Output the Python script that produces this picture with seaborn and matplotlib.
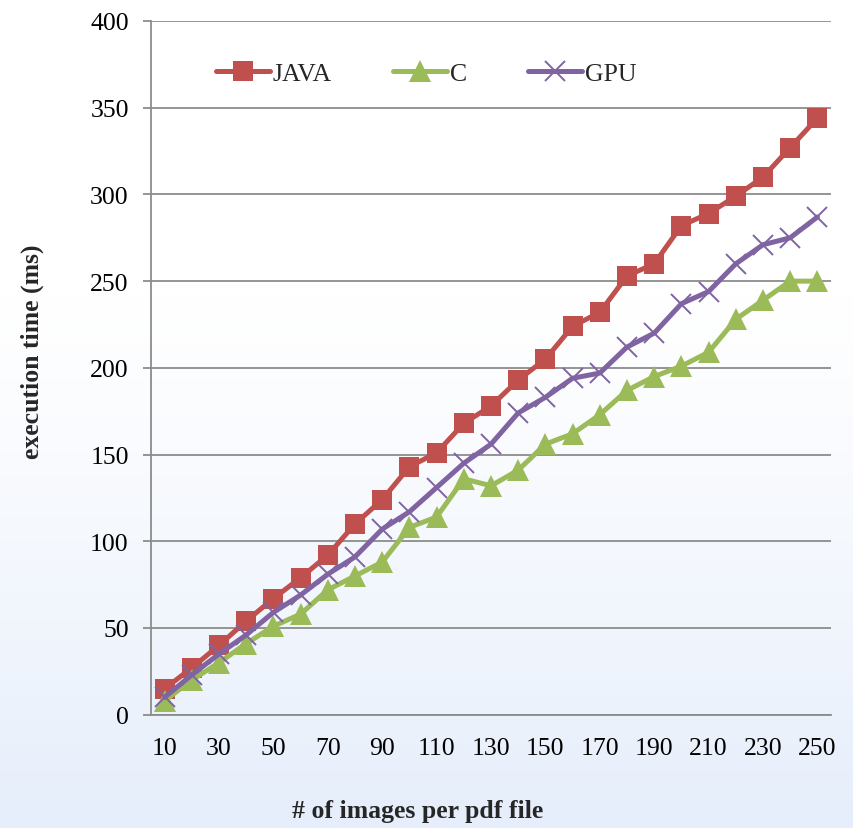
import numpy as np
import pandas as pd
import matplotlib
matplotlib.use("Agg")
import matplotlib.pyplot as plt
import seaborn as sns
from matplotlib.colors import LinearSegmentedColormap

images = list(range(10, 260, 10))
java = [15, 27, 40, 54, 67, 79, 92, 110, 124, 143, 151, 168, 178, 193, 205,
        224, 232, 253, 260, 282, 289, 299, 310, 327, 344]
c_vals = [8, 20, 30, 41, 51, 58, 72, 80, 88, 108, 114, 136, 132, 141, 156,
          162, 173, 187, 195, 201, 209, 228, 239, 250, 250]
gpu = [10, 23, 35, 46, 59, 69, 81, 91, 107, 117, 131, 145, 156, 174, 183,
       194, 197, 212, 220, 237, 244, 260, 271, 275, 287]
series_names = ["JAVA", "C", "GPU"]
x_ticks = list(range(10, 260, 20))
y_ticks = list(range(0, 401, 50))

sns.set_theme(style="white")
plt.rcParams["font.family"] = ["Liberation Serif", "DejaVu Serif"]

fig = plt.figure(figsize=(8.54, 8.29), dpi=100)

# background gradient
bg = fig.add_axes([0, 0, 1, 1], zorder=-10)
grad = np.linspace(0, 1, 400)
grad = np.clip((grad - 0.35) / 0.65, 0, 1) ** 1.2
cmap = LinearSegmentedColormap.from_list("bg", ["#ffffff", "#e6eefb"])
bg.imshow(grad[:, None], aspect="auto", cmap=cmap, extent=[0, 1, 0, 1], origin="upper")
bg.axis("off")

ax = fig.add_axes([151 / 854, 1 - 715.7 / 829, (831 - 151) / 854, (715.7 - 22) / 829])
ax.set_facecolor("none")

df = pd.DataFrame({"x": images, "JAVA": java, "C": c_vals, "GPU": gpu})
styles = {
    "JAVA": dict(color="#c0504d", marker="s", markersize=14, markeredgewidth=0),
    "C": dict(color="#9bbb59", marker="^", markersize=16, markeredgewidth=0),
    "GPU": dict(color="#8064a2", marker="x", markersize=14, markeredgewidth=1.4),
}
for name in series_names:
    st = styles[name]
    sns.lineplot(data=df, x="x", y=name, ax=ax, label=name, linewidth=3.6,
                 color=st["color"], marker=st["marker"], markersize=st["markersize"],
                 markeredgewidth=st["markeredgewidth"], markeredgecolor=st["color"],
                 clip_on=False)

ax.set_xlim(5, 255)
ax.set_ylim(0, 400)
ax.set_xticks(x_ticks)
ax.set_yticks(y_ticks)
ax.set_xticklabels([str(t) for t in x_ticks])
ax.yaxis.grid(True, color="#8c8c8c", linewidth=1.3)
ax.set_axisbelow(True)
for s in ["top", "right"]:
    ax.spines[s].set_visible(False)
for s in ["left", "bottom"]:
    ax.spines[s].set_color("#8c8c8c")
    ax.spines[s].set_linewidth(1.3)
ax.tick_params(axis="y", which="major", length=6, width=1.3, color="#8c8c8c",
               direction="out", left=True, labelsize=18.5, pad=10, labelcolor="black")
ax.tick_params(axis="x", which="major", length=0, labelsize=18.5, pad=16, labelcolor="black")

ax.set_xlabel("")
ax.set_ylabel("")
fig.text(418 / 854, 1 - 812 / 829, "# of images per pdf file", fontsize=18.5,
         fontweight="bold", ha="center", va="center")
fig.text(32 / 854, 1 - 352 / 829, "execution time (ms)", fontsize=18.5,
         fontweight="bold", ha="center", va="center", rotation=90)

leg = ax.legend(loc="center left", bbox_to_anchor=(0.08, 0.925), ncol=3, frameon=False,
                fontsize=18.5, handlelength=2.1, columnspacing=2.4, handletextpad=0.1,
                markerscale=1.0, borderaxespad=0)

fig.savefig("out.png", dpi=100)
